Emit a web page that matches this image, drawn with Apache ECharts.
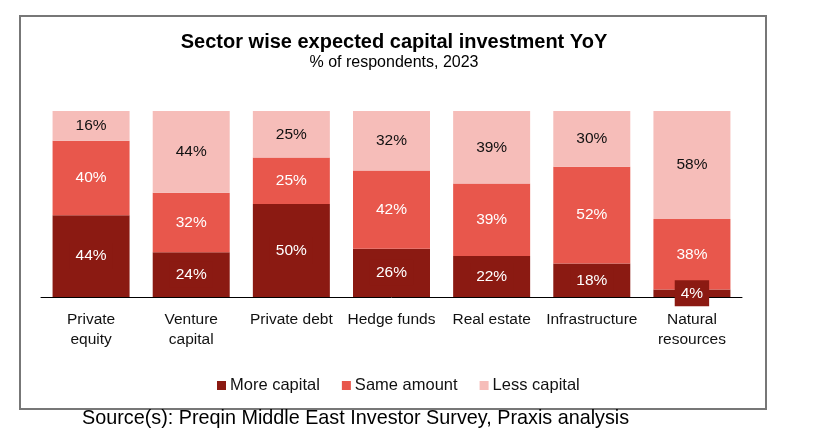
<!DOCTYPE html>
<html>
<head>
<meta charset="utf-8">
<script src="https://cdn.jsdelivr.net/npm/echarts@6/dist/echarts.min.js"></script>
<style>
html,body{margin:0;padding:0;background:#fff;}
#chart{width:833px;height:448px;}
</style>
</head>
<body>
<div id="chart"></div>
<script>
const categories = ['Private\nequity', 'Venture\ncapital', 'Private debt', 'Hedge funds', 'Real estate', 'Infrastructure', 'Natural\nresources'];
const moreCapital = [44, 24, 50, 26, 22, 18, 4];
const sameAmount = [40, 32, 25, 42, 39, 52, 38];
const lessCapital = [16, 44, 25, 32, 39, 30, 58];
const seriesNames = ['More capital', 'Same amount', 'Less capital'];
const colors = ['#8B1A12', '#E8574C', '#F6BDB9'];

const FONT = '"Liberation Sans", Arial, sans-serif';
const chart = echarts.init(document.getElementById('chart'), null, {renderer: 'canvas'});

function mkSeries(name, data, color, labelColor, bg) {
  return {
    name: name,
    type: 'bar',
    stack: 'total',
    data: data,
    barWidth: 77,
    itemStyle: {color: color},
    label: {
      show: true,
      position: 'inside',
      formatter: '{c}%',
      color: labelColor,
      fontFamily: FONT,
      fontSize: 15.5,
      backgroundColor: bg || 'transparent',
      padding: bg ? [5, 6] : 0
    },
    emphasis: {disabled: true}
  };
}

chart.setOption({
  animation: false,
  textStyle: {fontFamily: FONT},
  title: {
    text: 'Sector wise expected capital investment YoY',
    subtext: '% of respondents, 2023',
    left: 389,
    textAlign: 'center',
    top: 27,
    itemGap: 3,
    textStyle: {fontFamily: FONT, fontSize: 20, fontWeight: 'bold', color: '#000'},
    subtextStyle: {fontFamily: FONT, fontSize: 16, color: '#000'}
  },
  legend: {
    data: seriesNames,
    top: 372,
    left: 212,
    itemWidth: 9,
    itemHeight: 9,
    itemGap: 22,
    icon: 'rect',
    textStyle: {fontFamily: FONT, fontSize: 16.5, color: '#111', padding: [0, 0, 0, -1]}
  },
  grid: {left: 41, right: 91, top: 111, bottom: 151, containLabel: false},
  xAxis: {
    type: 'category',
    data: categories,
    axisLine: {lineStyle: {color: '#000', width: 1}},
    axisTick: {show: false},
    axisLabel: {
      fontFamily: FONT, fontSize: 15.5, color: '#111', lineHeight: 20, margin: 13, interval: 0
    }
  },
  yAxis: {
    type: 'value',
    min: 0,
    max: 100,
    show: false,
    splitLine: {show: false}
  },
  series: [
    mkSeries(seriesNames[0], moreCapital, colors[0], '#fff', colors[0]),
    mkSeries(seriesNames[1], sameAmount, colors[1], '#fff'),
    mkSeries(seriesNames[2], lessCapital, colors[2], '#111')
  ],
  graphic: [
    {
      type: 'rect',
      shape: {x: 20, y: 16, width: 746, height: 393},
      style: {fill: 'none', stroke: '#777', lineWidth: 2},
      silent: true
    },
    {
      type: 'text',
      left: 82,
      top: 409,
      style: {
        text: 'Source(s): Preqin Middle East Investor Survey, Praxis analysis',
        fontFamily: FONT,
        fontSize: 19.8,
        fill: '#000'
      }
    }
  ]
});
</script>
</body>
</html>
